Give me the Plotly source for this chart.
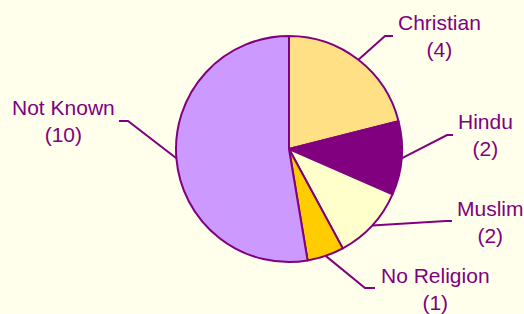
import math
import plotly.graph_objects as go

# ---- data ----
categories = ["Christian", "Hindu", "Muslim", "No Religion", "Not Known"]
counts = [4, 2, 2, 1, 10]
slice_colors = ["#FFE085", "#800080", "#FFFFCC", "#FFCC00", "#CC99FF"]

# ---- layout constants (pixels) ----
W, H = 524, 314
CX, CY, R = 289, 149, 113
PURPLE = "#800080"
BG = "#FFFFEC"
FONT = "Liberation Sans, Arial, sans-serif"

# label centres and leader-line elbows/ends (pixels)
label_pos = [(439, 36), (485, 135), (490, 222), (435, 289), (63, 121)]
elbows = [(385, 36), (447, 135), (446, 221), (365, 288), (128, 121)]
line_ends = [(393, 36), (453, 135), (452, 221), (375, 288), (119, 121)]


def px(x, y):
    return x / W, 1 - y / H


fig = go.Figure(
    go.Pie(
        labels=categories,
        values=counts,
        sort=False,
        direction="clockwise",
        rotation=0,
        marker=dict(colors=slice_colors, line=dict(color=PURPLE, width=2)),
        textinfo="none",
        hoverinfo="skip",
        showlegend=False,
        domain=dict(x=[(CX - R) / W, (CX + R) / W],
                    y=[(H - CY - R) / H, (H - CY + R) / H]),
    )
)

total = sum(counts)
shapes = []
annotations = []
cum = 0
for i, (cat, v) in enumerate(zip(categories, counts)):
    mid = (cum + v / 2) / total * 2 * math.pi
    cum += v
    sx = CX + R * math.sin(mid)
    sy = CY - R * math.cos(mid)
    pts = [(sx, sy), elbows[i], line_ends[i]]
    path = "M " + " L ".join("{:.5f},{:.5f}".format(*px(x, y)) for x, y in pts)
    shapes.append(dict(type="path", xref="paper", yref="paper", path=path,
                       line=dict(color=PURPLE, width=2)))
    lx, ly = label_pos[i]
    ax, ay = px(lx, ly)
    annotations.append(dict(
        x=ax, y=ay, xref="paper", yref="paper",
        text=f"{cat}<br>({v})", showarrow=False,
        xanchor="center", yanchor="middle", align="center",
        font=dict(family=FONT, size=21, color=PURPLE),
    ))

fig.update_layout(
    width=W, height=H, autosize=False,
    margin=dict(l=0, r=0, t=0, b=0),
    paper_bgcolor=BG, plot_bgcolor=BG,
    shapes=shapes, annotations=annotations,
)

fig.write_html(
    "out.html",
    config={"displayModeBar": False, "staticPlot": True},
    post_script="document.body.style.margin='0';document.body.style.overflow='hidden';",
)
